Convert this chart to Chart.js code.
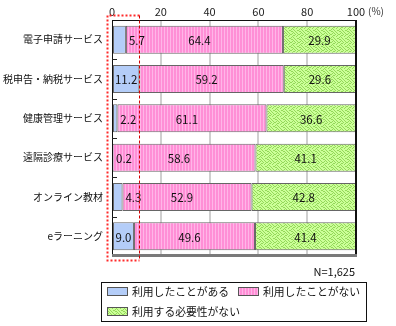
<!DOCTYPE html>
<html>
<head>
<meta charset="utf-8">
<script src="https://cdn.jsdelivr.net/npm/chart.js@4.4.1/dist/chart.umd.min.js"></script>
<style>
  html, body { margin: 0; padding: 0; background: #fff; }
  #wrap { width: 396px; height: 326px; }
</style>
</head>
<body>
<div id="wrap"><canvas id="c" width="396" height="326"></canvas></div>
<script>
// Service categories (top to bottom)
const categories = [
  '電子申請サービス',
  '税申告・納税サービス',
  '健康管理サービス',
  '遠隔診療サービス',
  'オンライン教材',
  'eラーニング'
];
const seriesNames = ['利用したことがある', '利用したことがない', '利用する必要性がない'];
// Shares in percent
const usedValues        = [5.7, 11.2, 2.2, 0.2, 4.3, 9.0];
const notUsedValues     = [64.4, 59.2, 61.1, 58.6, 52.9, 49.6];
const unnecessaryValues = [29.9, 29.6, 36.6, 41.1, 42.8, 41.4];
const xTicks = [0, 20, 40, 60, 80, 100];
const unitLabel = '(%)';
const sampleNote = 'N=1,625';

const JP_FONT = '"Noto Sans CJK JP", "Noto Sans", sans-serif';

// ---- fill patterns ----
function makeStripePattern() {
  const cv = document.createElement('canvas');
  cv.width = 3; cv.height = 4;
  const g = cv.getContext('2d');
  g.fillStyle = '#ff8fd6'; g.fillRect(0, 0, 3, 4);
  g.fillStyle = '#ffb6e8'; g.fillRect(2, 0, 1, 4);
  return g.createPattern(cv, 'repeat');
}
function makeHatchPattern() {
  const rows = [
    '10000100',
    '01001010',
    '00110001',
    '01000110',
    '10001000',
    '00010100',
    '01100010',
    '00011001'
  ];
  const cv = document.createElement('canvas');
  cv.width = 8; cv.height = 8;
  const g = cv.getContext('2d');
  g.fillStyle = '#ccff99'; g.fillRect(0, 0, 8, 8);
  g.fillStyle = '#94d85a';
  rows.forEach((r, y) => { for (let x = 0; x < 8; x++) if (r[x] === '1') g.fillRect(x, y, 1, 1); });
  return g.createPattern(cv, 'repeat');
}
const fills = ['#b4cdf8', makeStripePattern(), makeHatchPattern()];

// ---- plugins ----
const framePlugin = {
  id: 'frame',
  afterDatasetsDraw(chart) {
    const { ctx, chartArea: a, scales } = chart;
    const y = scales.y;
    ctx.save();
    // top border
    ctx.strokeStyle = '#111'; ctx.lineWidth = 1;
    ctx.beginPath(); ctx.moveTo(a.left, a.top + 0.5); ctx.lineTo(a.right, a.top + 0.5); ctx.stroke();
    // left axis
    ctx.beginPath(); ctx.moveTo(a.left + 0.5, a.top); ctx.lineTo(a.left + 0.5, a.bottom); ctx.stroke();
    // right border
    ctx.lineWidth = 2;
    ctx.beginPath(); ctx.moveTo(a.right, a.top); ctx.lineTo(a.right, a.bottom); ctx.stroke();
    // bottom border
    ctx.strokeStyle = '#7a7a7a'; ctx.lineWidth = 3;
    ctx.beginPath(); ctx.moveTo(a.left, a.bottom - 0.5); ctx.lineTo(a.right + 1, a.bottom - 0.5); ctx.stroke();
    // short inner ticks at category boundaries
    ctx.strokeStyle = '#222'; ctx.lineWidth = 1;
    for (let i = 0; i < categories.length - 1; i++) {
      const yy = Math.round((y.getPixelForValue(i) + y.getPixelForValue(i + 1)) / 2) + 0.5;
      ctx.beginPath(); ctx.moveTo(a.left, yy); ctx.lineTo(a.left + 5, yy); ctx.stroke();
    }
    ctx.restore();
  }
};

const valueLabelPlugin = {
  id: 'valueLabels',
  afterDatasetsDraw(chart) {
    const { ctx } = chart;
    ctx.save();
    ctx.font = '11.5px ' + JP_FONT;
    ctx.fillStyle = '#111';
    ctx.textBaseline = 'middle';
    chart.data.datasets.forEach((ds, di) => {
      const meta = chart.getDatasetMeta(di);
      meta.data.forEach((el, i) => {
        const v = ds.data[i];
        const txt = v.toFixed(1);
        const left = Math.min(el.x, el.base), right = Math.max(el.x, el.base);
        if (di === 0 && v < 8) {
          ctx.textAlign = 'left';
          ctx.fillText(txt, right + 3, el.y + 1);
        } else {
          ctx.textAlign = 'center';
          const shift = di === 1 ? -5 : 0;
          ctx.fillText(txt, (left + right) / 2 + shift, el.y + 1);
        }
      });
    });
    ctx.restore();
  }
};

const overlayPlugin = {
  id: 'overlay',
  afterDraw(chart) {
    const { ctx, chartArea: a, scales } = chart;
    const x = scales.x;
    ctx.save();
    // unit next to the last tick
    ctx.font = '10px ' + JP_FONT;
    ctx.fillStyle = '#333';
    ctx.textAlign = 'left'; ctx.textBaseline = 'middle';
    ctx.fillText(unitLabel, x.getPixelForValue(100) + 12, 11);

    // dashed highlight around the low-value region
    const L = a.left - 4.5, T = 15.5, B = 260.5;
    const R = Math.round(x.getPixelForValue(Math.max(...usedValues))) + 0.5;
    ctx.strokeStyle = '#ff2a2a'; ctx.lineWidth = 2; ctx.setLineDash([2, 2]);
    ctx.beginPath();
    ctx.moveTo(R, T); ctx.lineTo(L, T); ctx.lineTo(L, B); ctx.lineTo(R, B);
    ctx.stroke();
    ctx.strokeStyle = '#d40000'; ctx.lineWidth = 1; ctx.setLineDash([3, 2]);
    ctx.beginPath(); ctx.moveTo(R, T); ctx.lineTo(R, B); ctx.stroke();
    ctx.setLineDash([]);

    // sample size note
    ctx.font = '11px ' + JP_FONT;
    ctx.fillStyle = '#111';
    ctx.textAlign = 'right';
    ctx.fillText(sampleNote, 355, 272);

    // legend
    ctx.strokeStyle = '#111'; ctx.lineWidth = 1;
    ctx.strokeRect(101.5, 282.5, 265, 39);
    const spots = [[107, 287], [238, 287], [107, 307]];
    ctx.font = '10.8px ' + JP_FONT;
    ctx.textAlign = 'left';
    chart.data.datasets.forEach((ds, i) => {
      const [sx, sy] = spots[i];
      ctx.fillStyle = ds.backgroundColor;
      ctx.fillRect(sx, sy, 21, 8);
      ctx.strokeStyle = '#555';
      ctx.strokeRect(sx + 0.5, sy + 0.5, 20, 8);
      ctx.fillStyle = '#111';
      ctx.fillText(ds.label, sx + 25, sy + 5);
    });
    ctx.restore();
  }
};

// ---- chart ----
new Chart(document.getElementById('c'), {
  type: 'bar',
  data: {
    labels: categories,
    datasets: [usedValues, notUsedValues, unnecessaryValues].map((vals, i) => ({
      label: seriesNames[i],
      data: vals,
      backgroundColor: fills[i],
      borderColor: '#666',
      borderWidth: 1,
      borderSkipped: false,
      categoryPercentage: 0.71,
      barPercentage: 1
    }))
  },
  options: {
    indexAxis: 'y',
    responsive: false,
    devicePixelRatio: 1,
    animation: false,
    layout: { padding: { left: 0, top: 0, right: 40, bottom: 70 } },
    plugins: { legend: { display: false }, tooltip: { enabled: false } },
    scales: {
      x: {
        position: 'top',
        stacked: true,
        min: 0, max: 100,
        afterBuildTicks(scale) { scale.ticks = xTicks.map(v => ({ value: v })); },
        afterFit(scale) { scale.height = 20; scale.paddingLeft = 0; scale.paddingRight = 0; },
        border: { display: false },
        grid: {
          drawTicks: false,
          lineWidth: 2,
          color: ctx => (ctx.tick && (ctx.tick.value === 0 || ctx.tick.value === 100)) ? 'rgba(0,0,0,0)' : '#cfcfcf'
        },
        ticks: { padding: 2, color: '#222', font: { family: JP_FONT, size: 11 } }
      },
      y: {
        stacked: true,
        afterFit(scale) { scale.width = 112; },
        border: { display: false },
        grid: { display: false, drawTicks: false },
        ticks: { padding: 9, color: '#111', font: { family: JP_FONT, size: 10 } }
      }
    }
  },
  plugins: [framePlugin, valueLabelPlugin, overlayPlugin]
});
</script>
</body>
</html>
